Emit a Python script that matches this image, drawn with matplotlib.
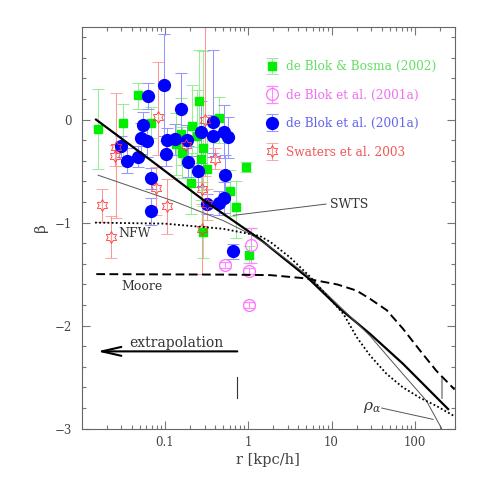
import numpy as np
import matplotlib
matplotlib.use("Agg")
import matplotlib.pyplot as plt
from matplotlib.path import Path
from matplotlib.container import ErrorbarContainer
from matplotlib.legend_handler import HandlerErrorbar
from matplotlib.ticker import LogLocator, MultipleLocator, NullFormatter

plt.rcParams['font.family'] = ['DejaVu Serif']
plt.rcParams['mathtext.fontset'] = 'dejavuserif'

# --- data ---
# de Blok & Bosma (2002)
green_r = [0.0157, 0.0314, 0.0474, 0.0686, 0.135, 0.157, 0.16, 0.209, 0.258, 0.445,
           0.24, 0.288, 0.268, 0.94, 0.32, 0.203, 0.60, 0.71, 0.288, 1.03]
green_b = [-0.09, -0.03, 0.24, -0.03, -0.24, -0.14, -0.32, -0.06, 0.18, 0.02,
           -0.16, -0.28, -0.38, -0.46, -0.48, -0.62, -0.69, -0.85, -1.09, -1.31]
green_up = [0.39, 0.18, 0.12, 0.15, 0.30, 0.35, 0.25, 0.40, 0.50, 0.20,
            0.45, 0.95, 0.35, 0.05, 0.30, 0.30, 0.20, 0.25, 0.25, 0.08]
green_dn = [0.39, 0.42, 0.14, 0.15, 0.30, 0.30, 0.25, 0.40, 0.45, 0.25,
            0.40, 0.40, 0.40, 0.05, 0.35, 0.30, 0.25, 0.30, 0.25, 0.08]

# de Blok et al. (2001a), open
mag_r = [0.52, 1.07, 1.03, 1.03]
mag_b = [-1.41, -1.22, -1.47, -1.80]
mag_err = [0.03, 0.17, 0.03, 0.03]

# de Blok et al. (2001a), filled
blue_r = [0.0964, 0.0625, 0.155, 0.0545, 0.051, 0.0613, 0.030, 0.035, 0.048, 0.106,
          0.133, 0.103, 0.185, 0.19, 0.0686, 0.0686, 0.38, 0.51, 0.575, 0.268,
          0.38, 0.25, 0.52, 0.51, 0.449, 0.316, 0.66]
blue_b = [0.34, 0.23, 0.10, -0.05, -0.18, -0.21, -0.26, -0.40, -0.36, -0.20,
          -0.19, -0.33, -0.20, -0.41, -0.57, -0.89, -0.02, -0.12, -0.17, -0.12,
          -0.16, -0.50, -0.54, -0.76, -0.81, -0.82, -1.28]
blue_up = [0.49, 0.13, 0.35, 0.12, 0.15, 0.15, 0.10, 0.12, 0.10, 0.12,
           0.15, 0.12, 0.15, 0.15, 0.10, 0.13, 0.70, 0.26, 0.20, 0.30,
           0.20, 0.15, 0.20, 0.15, 0.12, 0.10, 0.07]
blue_dn = [0.50, 0.13, 0.30, 0.12, 0.15, 0.15, 0.10, 0.12, 0.10, 0.12,
           0.15, 0.12, 0.15, 0.15, 0.10, 0.13, 0.30, 0.25, 0.20, 0.30,
           0.20, 0.15, 0.20, 0.15, 0.12, 0.10, 0.07]

# Swaters et al. 2003
red_r = [0.0174, 0.0225, 0.026, 0.0249, 0.082, 0.079, 0.105, 0.30, 0.18, 0.40,
         0.28, 0.275, 0.316]
red_b = [-0.83, -1.14, -0.27, -0.35, 0.03, -0.66, -0.84, 0.00, -0.25, -0.38,
         -0.67, -1.06, -0.82]
red_up = [0.16, 0.20, 0.53, 0.10, 0.53, 0.20, 0.26, 0.90, 0.10, 0.10, 0.15, 0.45, 0.15]
red_dn = [0.16, 0.20, 0.69, 0.10, 0.37, 0.27, 0.27, 0.55, 0.10, 0.10, 0.15, 0.44, 0.15]

# model slope curves
swts_r = [0.0149, 0.069, 0.30, 1.38, 5.1, 12.8, 29, 72, 251]
swts_b = [0.0, -0.40, -0.79, -1.16, -1.53, -1.84, -2.08, -2.37, -2.81]

ralpha_r = [0.0158, 0.126, 0.5, 1.05, 1.86, 5.1, 12.8, 29, 72, 138, 210]
ralpha_b = [-0.54, -0.79, -0.98, -1.11, -1.24, -1.51, -1.82, -2.10, -2.47, -2.73, -3.0]

nfw_r = [0.0145, 0.1, 0.5, 1.38, 1.86, 3.2, 5.6, 9.3, 14, 20, 29, 46, 72, 115, 182, 300]
nfw_b = [-1.0, -1.01, -1.06, -1.13, -1.19, -1.34, -1.53, -1.73, -1.89, -2.11,
         -2.29, -2.47, -2.60, -2.70, -2.78, -2.88]

moore_r = [0.015, 0.6, 1.86, 4.7, 11.7, 20, 29, 46, 72, 115, 182, 300]
moore_b = [-1.50, -1.505, -1.51, -1.54, -1.60, -1.66, -1.74, -1.85, -2.03, -2.24, -2.44, -2.62]

labels = ["de Blok & Bosma (2002)", "de Blok et al. (2001a)",
          "de Blok et al. (2001a)", "Swaters et al. 2003"]
text_colors = ['#66dd66', '#f070f0', '#6464f0', '#f05858']

# --- figure ---
fig = plt.figure(figsize=(4.8, 4.8), dpi=100)
ax = fig.add_axes([0.170, 0.107, 0.777, 0.837])
ax.set_xscale('log')
ax.set_xlim(0.01, 300)
ax.set_ylim(-3, 0.9)

hexagram = Path.unit_regular_star(6, 0.577)
eb_kw = dict(elinewidth=0.75, capsize=4.3, capthick=0.75, linestyle='none')

eb_g = ax.errorbar(green_r, green_b, yerr=[green_dn, green_up], marker='s', ms=5.5,
                   mfc='#00ee00', mec='#00ee00', ecolor='#96ee96', **eb_kw)
eb_m = ax.errorbar(mag_r, mag_b, yerr=mag_err, marker='o', ms=8.5, mfc='none',
                   mec='#ff70ff', mew=0.9, ecolor='#ff88ff', **eb_kw)
eb_b = ax.errorbar(blue_r, blue_b, yerr=[blue_dn, blue_up], marker='o', ms=8.5,
                   mfc='#0000ff', mec='#0000ff', ecolor='#9696ff', **eb_kw)
eb_r = ax.errorbar(red_r, red_b, yerr=[red_dn, red_up], marker=hexagram, ms=8.5,
                   mfc='none', mec='#ff3a3a', mew=0.6, ecolor='#ff9696', **eb_kw)

# curves
ax.plot(swts_r, swts_b, color='black', lw=1.6, zorder=4)
ax.plot(ralpha_r, ralpha_b, color='#555555', lw=0.7, zorder=4)
ax.plot(nfw_r, nfw_b, color='black', lw=1.3, linestyle=(0, (1, 1.3)), zorder=4)
ax.plot(moore_r, moore_b, color='black', lw=1.4, linestyle=(0, (4.5, 2.3)), zorder=4)

# labels on curves
ax.text(0.0437, -1.11, 'NFW', fontsize=9, ha='center', va='center', color='#333333')
ax.text(0.0525, -1.62, 'Moore', fontsize=9, ha='center', va='center', color='#333333')
ax.text(9.6, -0.82, 'SWTS', fontsize=9, ha='left', va='center', color='#333333')
ax.plot([0.66, 8.6], [-0.93, -0.82], color='#555555', lw=0.7)
ax.text(31, -2.79, r'$\rho_\alpha$', fontsize=11, ha='center', va='center', color='#333333')
ax.plot([40, 166], [-2.80, -2.91], color='#555555', lw=0.7)

# extrapolation arrow
ax.annotate('', xy=(0.0154, -2.25), xytext=(0.74, -2.25),
            arrowprops=dict(arrowstyle='->,head_length=1.4,head_width=0.32',
                            lw=1.5, color='black', shrinkA=0, shrinkB=0))
ax.text(0.138, -2.17, 'extrapolation', fontsize=10, ha='center', va='center',
        color='#333333')
ax.plot([0.74, 0.74], [-2.5, -2.7], color='#333333', lw=0.8)
ax.plot([213, 213], [-2.5, -2.7], color='#999999', lw=1.3)

# axes styling
ax.set_xticks([0.1, 1, 10, 100], labels=['0.1', '1', '10', '100'])
ax.xaxis.set_minor_locator(LogLocator(base=10, subs=np.arange(2, 10)))
ax.xaxis.set_minor_formatter(NullFormatter())
ax.yaxis.set_major_locator(MultipleLocator(1))
ax.yaxis.set_minor_locator(MultipleLocator(0.2))
ax.tick_params(which='both', direction='in', top=True, right=True, color='#777777',
               width=0.8, labelsize=8.5, labelcolor='#444444')
ax.tick_params(which='major', length=5.8)
ax.tick_params(which='minor', length=2.9)
ax.tick_params(axis='x', pad=5)
ax.tick_params(axis='y', pad=7)
for sp in ax.spines.values():
    sp.set_color('#666666')
    sp.set_linewidth(0.8)

ax.set_xlabel('r [kpc/h]', fontsize=10.5, color='#444444', labelpad=3)
ax.set_ylabel('β', fontsize=11, color='#444444', labelpad=5)

leg = ax.legend([eb_g, eb_m, eb_b, eb_r], labels, loc='upper left',
                bbox_to_anchor=(0.495, 0.917), frameon=False, fontsize=8.7,
                numpoints=1, handlelength=1.0, handletextpad=0.66,
                labelspacing=1.28, borderpad=0, borderaxespad=0,
                handler_map={ErrorbarContainer: HandlerErrorbar(yerr_size=0.7)})
for t, c in zip(leg.get_texts(), text_colors):
    t.set_color(c)

fig.savefig('out.png', dpi=100)
